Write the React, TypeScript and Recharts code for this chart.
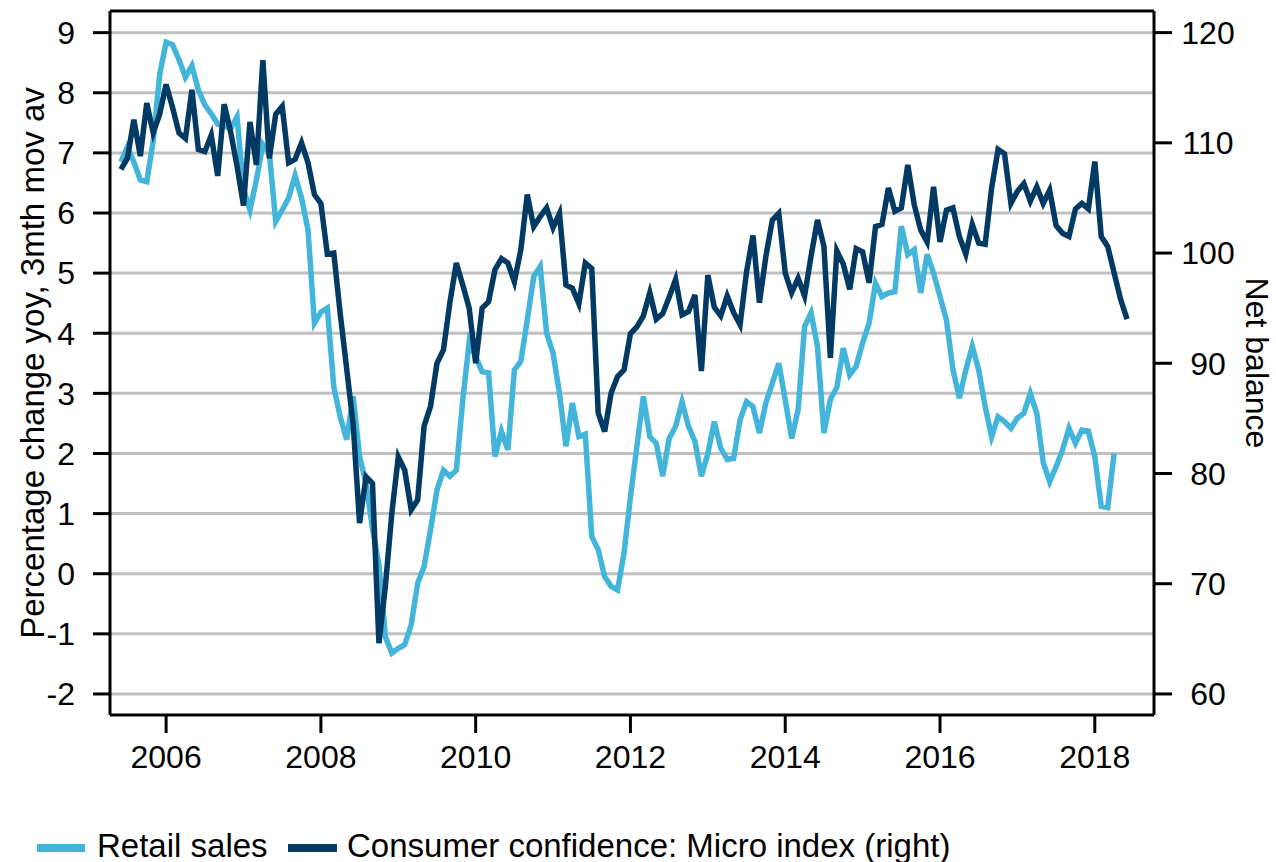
import { LineChart, Line, XAxis, YAxis, CartesianGrid, ReferenceLine } from "recharts";

// monthly series, first point June 2005
const START_YEAR = 2005;
const START_MONTH = 6;

// Retail sales, % change yoy, 3mth mov av (left axis)
const retail2005 = [6.85, 7.1, 6.85, 6.55, 6.52, 7.2, 8.3];
const retail2006 = [8.84, 8.8, 8.55, 8.26, 8.45, 8.05, 7.8, 7.65, 7.48, 7.45, 7.4, 7.6];
const retail2007 = [6.4, 6.05, 6.55, 7.14, 7.0, 5.86, 6.05, 6.25, 6.62, 6.25, 5.72, 4.17];
const retail2008 = [4.35, 4.42, 3.11, 2.61, 2.23, 2.95, 1.95, 1.5, 0.75, 0.15, -1.05, -1.32];
const retail2009 = [-1.24, -1.18, -0.85, -0.16, 0.12, 0.73, 1.39, 1.72, 1.62, 1.72, 2.89, 3.86];
const retail2010 = [3.61, 3.36, 3.34, 1.95, 2.37, 2.06, 3.39, 3.53, 4.22, 4.94, 5.11, 4.0];
const retail2011 = [3.67, 3.0, 2.12, 2.84, 2.28, 2.32, 0.62, 0.4, -0.05, -0.21, -0.27, 0.34];
const retail2012 = [1.28, 2.12, 2.95, 2.28, 2.17, 1.62, 2.25, 2.45, 2.86, 2.45, 2.2, 1.62];
const retail2013 = [2.0, 2.53, 2.09, 1.9, 1.92, 2.56, 2.86, 2.78, 2.34, 2.84, 3.17, 3.5];
const retail2014 = [2.89, 2.25, 2.73, 4.11, 4.34, 3.78, 2.34, 2.9, 3.1, 3.75, 3.31, 3.45];
const retail2015 = [3.84, 4.17, 4.83, 4.61, 4.67, 4.69, 5.78, 5.31, 5.39, 4.67, 5.31, 5.0];
const retail2016 = [4.61, 4.22, 3.4, 2.92, 3.39, 3.78, 3.39, 2.78, 2.28, 2.61, 2.53, 2.42];
const retail2017 = [2.59, 2.67, 3.0, 2.67, 1.85, 1.53, 1.78, 2.06, 2.42, 2.17, 2.39, 2.37];
const retail2018 = [1.95, 1.12, 1.1, 2.0];

// Consumer confidence: Micro index, net balance (right axis)
const conf2005 = [107.6, 108.6, 112.1, 108.8, 113.6, 110.9, 112.6];
const conf2006 = [115.3, 113.2, 110.9, 110.4, 114.8, 109.4, 109.2, 110.7, 107.0, 113.5, 111.0, 107.9];
const conf2007 = [104.3, 111.9, 108.0, 117.5, 108.6, 112.6, 113.3, 108.2, 108.5, 110.0, 108.2, 105.3];
const conf2008 = [104.5, 99.9, 100.0, 94.5, 89.5, 84.5, 75.5, 79.7, 79.1, 64.6, 69.8, 76.4];
const conf2009 = [81.5, 80.3, 76.7, 77.6, 84.3, 86.1, 90.0, 91.2, 95.5, 99.1, 97.1, 95.0];
const conf2010 = [90.0, 95.0, 95.6, 98.5, 99.5, 99.1, 97.4, 100.3, 105.3, 102.4, 103.3, 104.1];
const conf2011 = [102.3, 103.6, 97.1, 96.8, 95.4, 99.1, 98.6, 85.5, 83.8, 87.3, 88.8, 89.4];
const conf2012 = [92.7, 93.3, 94.3, 96.4, 94.0, 94.5, 96.0, 97.6, 94.4, 94.7, 96.2, 89.3];
const conf2013 = [98.0, 95.1, 94.3, 96.1, 94.6, 93.5, 98.3, 101.6, 95.5, 99.7, 103.0, 103.6];
const conf2014 = [98.2, 96.4, 97.7, 96.1, 99.7, 103.0, 100.6, 90.5, 100.2, 99.0, 96.7, 100.4];
const conf2015 = [100.1, 97.3, 102.4, 102.6, 105.9, 103.8, 104.1, 108.0, 104.4, 102.1, 101.0, 106.0];
const conf2016 = [101.0, 103.9, 104.1, 101.5, 99.9, 102.6, 100.9, 100.8, 105.9, 109.4, 109.0, 104.5];
const conf2017 = [105.6, 106.3, 104.7, 106.0, 104.5, 105.7, 102.5, 101.8, 101.5, 104.0, 104.5, 104.0];
const conf2018 = [108.3, 101.5, 100.6, 98.2, 95.8, 94.0];

const retailSales = [
  ...retail2005, ...retail2006, ...retail2007, ...retail2008, ...retail2009, ...retail2010,
  ...retail2011, ...retail2012, ...retail2013, ...retail2014, ...retail2015, ...retail2016,
  ...retail2017, ...retail2018,
];
const consumerConfidence = [
  ...conf2005, ...conf2006, ...conf2007, ...conf2008, ...conf2009, ...conf2010,
  ...conf2011, ...conf2012, ...conf2013, ...conf2014, ...conf2015, ...conf2016,
  ...conf2017, ...conf2018,
];

const yearTicks = [2006, 2008, 2010, 2012, 2014, 2016, 2018];
const leftTicks = [-2, -1, 0, 1, 2, 3, 4, 5, 6, 7, 8, 9];
const rightTicks = [60, 70, 80, 90, 100, 110, 120];

const data = consumerConfidence.map((c, i) => ({
  t: START_YEAR + (START_MONTH - 1 + i) / 12,
  retail: i < retailSales.length ? retailSales[i] : null,
  confidence: c,
}));

const LIGHT = "#43b5da";
const DARK = "#033a63";
const FONT = "'Liberation Sans', Arial, sans-serif";
const tickStyle = { fill: "#000", fontSize: 32, fontFamily: FONT };
const axisLine = { stroke: "#000", strokeWidth: 3 };
const LEFT_TOP = 9.36;

export default function App() {
  return (
    <div style={{ position: "absolute", left: 0, top: 0, width: 1276, height: 862, background: "#fff", fontFamily: FONT }}>
      <LineChart width={1276} height={862} data={data} margin={{ top: 11, right: 0, bottom: 87, left: 0 }}>
        <CartesianGrid yAxisId="left" vertical={false} stroke="#c0c0c0" strokeWidth={3} horizontalValues={leftTicks} />
        <XAxis
          dataKey="t"
          type="number"
          domain={[2005.275, 2018.765]}
          allowDataOverflow
          ticks={yearTicks}
          tick={tickStyle}
          tickSize={18}
          tickMargin={12}
          axisLine={axisLine}
          tickLine={axisLine}
          height={60}
        />
        <YAxis
          yAxisId="left"
          orientation="left"
          domain={[-2.35, LEFT_TOP]}
          allowDataOverflow
          ticks={leftTicks}
          tick={tickStyle}
          tickSize={17}
          tickMargin={18}
          axisLine={axisLine}
          tickLine={axisLine}
          width={110}
          label={{
            value: "Percentage change yoy, 3mth mov av",
            angle: -90,
            position: "insideLeft",
            offset: 32,
            style: { textAnchor: "middle", fontSize: 33, fill: "#000", fontFamily: FONT },
          }}
        />
        <YAxis
          yAxisId="right"
          orientation="right"
          domain={[58.09, 121.96]}
          allowDataOverflow
          ticks={rightTicks}
          tick={{ ...tickStyle, textAnchor: "middle" }}
          tickSize={18}
          tickMargin={36}
          axisLine={axisLine}
          tickLine={axisLine}
          width={122}
          label={{
            value: "Net balance",
            angle: 90,
            position: "insideRight",
            offset: 19,
            style: { textAnchor: "middle", fontSize: 32, fill: "#000", fontFamily: FONT },
          }}
        />
        <ReferenceLine yAxisId="left" y={LEFT_TOP} stroke="#000" strokeWidth={3} ifOverflow="visible" />
        <Line
          yAxisId="left"
          dataKey="retail"
          stroke={LIGHT}
          strokeWidth={5.5}
          dot={false}
          type="linear"
          isAnimationActive={false}
        />
        <Line
          yAxisId="right"
          dataKey="confidence"
          stroke={DARK}
          strokeWidth={5.5}
          dot={false}
          type="linear"
          isAnimationActive={false}
        />
      </LineChart>
      <div style={{ position: "absolute", left: 37, top: 844, width: 48, height: 8, background: LIGHT }} />
      <div style={{ position: "absolute", left: 97, top: 832, fontSize: 33, lineHeight: "28px", whiteSpace: "nowrap" }}>
        Retail sales
      </div>
      <div style={{ position: "absolute", left: 288, top: 844, width: 49, height: 8, background: DARK }} />
      <div style={{ position: "absolute", left: 347, top: 832, fontSize: 33, lineHeight: "28px", whiteSpace: "nowrap" }}>
        Consumer confidence: Micro index (right)
      </div>
    </div>
  );
}
